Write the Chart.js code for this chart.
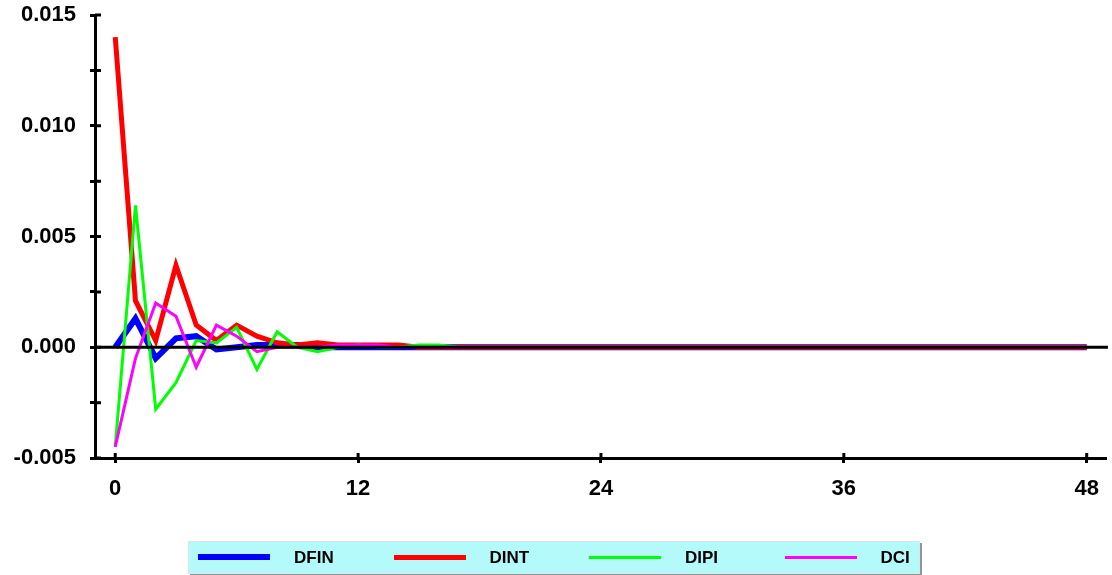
<!DOCTYPE html>
<html>
<head>
<meta charset="utf-8">
<script src="https://cdn.jsdelivr.net/npm/chart.js@4/dist/chart.umd.min.js"></script>
<style>
  body { margin: 0; background: #fff; }
  #wrap { position: relative; width: 1112px; height: 575px; }
  #legend {
    position: absolute; left: 188px; top: 541px; width: 730px; height: 31px;
    background: #b4fafa; border: 1px solid #d8e8e8;
    box-shadow: 2px 2px 0 #8a9a9a;
    font-family: "Liberation Sans", Arial, sans-serif; font-weight: bold; font-size: 17px;
  }
  .sw { position: absolute; top: 15px; width: 72px; }
  .lbl { position: absolute; top: 6px; color: #000; }
</style>
</head>
<body>
<div id="wrap">
  <canvas id="chart" width="1112" height="575"></canvas>
  <div id="legend"></div>
</div>
<script>
// horizons 0..48
const periods = Array.from({ length: 49 }, (_, i) => i);
const xTicks = [0, 12, 24, 36, 48];

const seriesNames = ['DFIN', 'DINT', 'DIPI', 'DCI'];
const seriesColors = ['#0000ff', '#ff0000', '#00ff00', '#ff00ff'];
const seriesWidths = [6, 5, 3, 3];

const pad = n => Array(n).fill(0);

const dfin = [0.0000, 0.0013, -0.0005, 0.0004, 0.0005, -0.0001, 0.0000, 0.0001, 0.0001, 0.0001,
  0.0000, 0.0000, 0.0000].concat(pad(36));
const dint = [0.0140, 0.0021, 0.0003, 0.0037, 0.0010, 0.0003, 0.0010, 0.0005, 0.0002, 0.0001,
  0.0002, 0.0001, 0.0001, 0.0001, 0.0001, 0.0000].concat(pad(33));
const dipi = [-0.0045, 0.0064, -0.0028, -0.0016, 0.0003, 0.0002, 0.0009, -0.0010, 0.0007, 0.0000,
  -0.0002, 0.0000, 0.0001, 0.0000, 0.0000, 0.0001, 0.0001, 0.0000].concat(pad(31));
const dci = [-0.0045, -0.0005, 0.0020, 0.0014, -0.0009, 0.0010, 0.0005, -0.0002, 0.0000, 0.0000,
  0.0000, 0.0001, 0.0001, 0.0001, 0.0000].concat(pad(34));

const seriesData = [dfin, dint, dipi, dci];

// html legend built from the series lists
const legend = document.getElementById('legend');
seriesNames.forEach((name, i) => {
  const sw = document.createElement('div');
  sw.className = 'sw';
  sw.style.left = (9 + i * 195.5) + 'px';
  sw.style.height = seriesWidths[i] + 'px';
  sw.style.marginTop = (-seriesWidths[i] / 2) + 'px';
  sw.style.background = seriesColors[i];
  const lb = document.createElement('div');
  lb.className = 'lbl';
  lb.style.left = (105 + i * 195.5) + 'px';
  lb.textContent = name;
  legend.appendChild(sw);
  legend.appendChild(lb);
});

// ticks crossing the axis + zero line on top of the data
const axisExtras = {
  id: 'axisExtras',
  afterDatasetsDraw(chart) {
    const { ctx, chartArea, scales } = chart;
    const x = scales.x, y = scales.y;
    ctx.save();
    ctx.strokeStyle = '#000';
    ctx.lineWidth = 3;
    const y0 = y.getPixelForValue(0);
    ctx.beginPath();
    ctx.moveTo(chartArea.left, y0);
    ctx.lineTo(chartArea.right + 1, y0);
    ctx.stroke();
    ctx.beginPath();
    y.ticks.forEach(t => {
      const py = y.getPixelForValue(t.value);
      ctx.moveTo(chartArea.left, py);
      ctx.lineTo(chartArea.left + 6, py);
    });
    x.ticks.forEach(t => {
      const px = x.getPixelForValue(t.value);
      ctx.moveTo(px, chartArea.bottom);
      ctx.lineTo(px, chartArea.bottom - 5);
    });
    ctx.stroke();
    ctx.restore();
  }
};

const tickFont = { family: '"Liberation Sans", Arial, sans-serif', size: 22, weight: 'bold' };

new Chart(document.getElementById('chart'), {
  type: 'line',
  data: {
    labels: periods,
    datasets: seriesNames.map((name, i) => ({
      label: name,
      data: periods.map((p, k) => ({ x: p, y: seriesData[i][k] })),
      borderColor: seriesColors[i],
      borderWidth: seriesWidths[i],
      pointRadius: 0,
      tension: 0,
      order: 4 - i
    }))
  },
  options: {
    responsive: false,
    animation: false,
    events: [],
    layout: { padding: { top: 6, right: 3, left: 0, bottom: 0 } },
    plugins: { legend: { display: false }, tooltip: { enabled: false } },
    scales: {
      x: {
        type: 'linear',
        min: -1,
        max: 49,
        afterBuildTicks: s => { s.ticks = xTicks.map(v => ({ value: v })); },
        afterFit: s => { s.height = 117; },
        border: { color: '#000', width: 3 },
        grid: { drawOnChartArea: false, drawTicks: true, tickLength: 5, tickWidth: 3, tickColor: '#000' },
        ticks: { color: '#000', font: tickFont, padding: 13, maxRotation: 0 }
      },
      y: {
        min: -0.005,
        max: 0.015,
        afterFit: s => { s.width = 95; s.paddingTop = 15; s.paddingBottom = 0; },
        border: { color: '#000', width: 3 },
        grid: { drawOnChartArea: false, drawTicks: true, tickLength: 5, tickWidth: 3, tickColor: '#000' },
        ticks: {
          stepSize: 0.0025,
          color: '#000',
          font: tickFont,
          padding: 14,
          callback: v => {
            const r = Math.round(v / 0.005);
            return Math.abs(r * 0.005 - v) < 1e-9 ? (r * 0.005).toFixed(3) : '';
          }
        }
      }
    }
  },
  plugins: [axisExtras]
});
</script>
</body>
</html>
